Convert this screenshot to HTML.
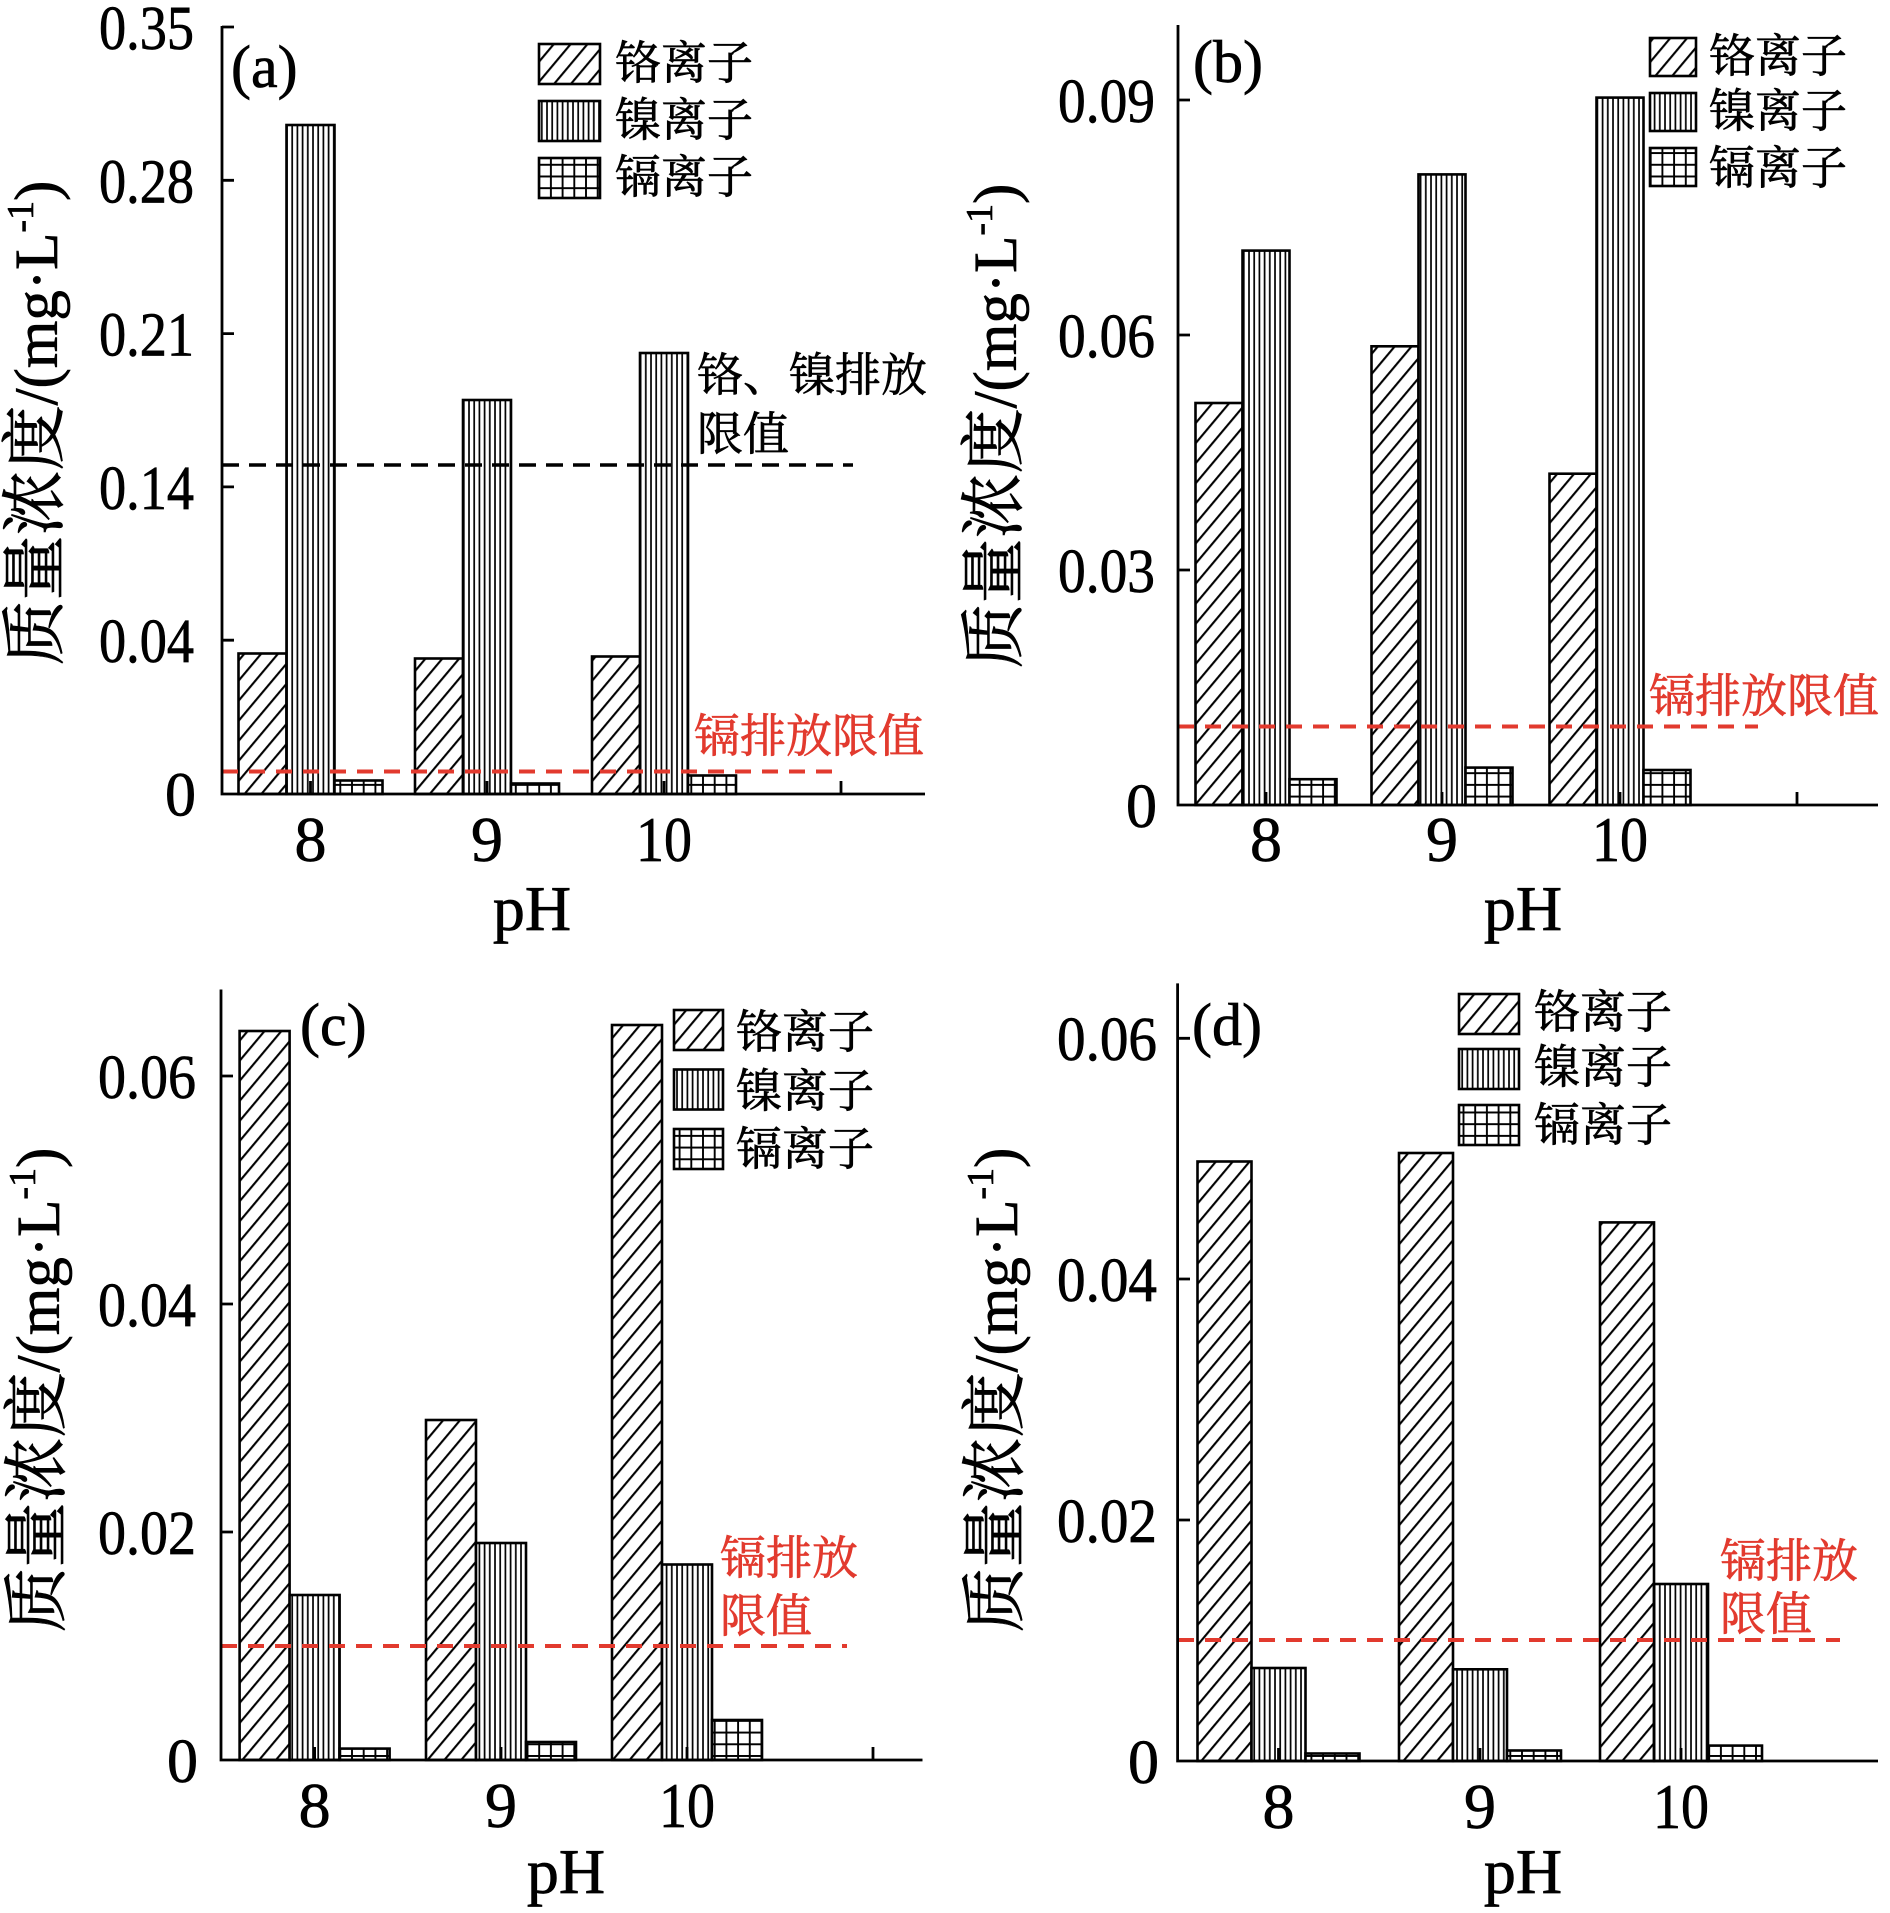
<!DOCTYPE html>
<html><head><meta charset="utf-8"><style>
html,body{margin:0;padding:0;background:#fff;}
svg{display:block;}
.num{font-family:"Liberation Serif","Noto Serif CJK SC",serif;fill:#000;stroke:#000;stroke-width:0.7;}
.cjk{font-family:"Liberation Serif","Noto Serif CJK SC",serif;fill:#000;stroke:#000;stroke-width:0.7;}
.red{fill:#e23a2e;stroke:#e23a2e;}
.ax{stroke:#000;stroke-width:2.8;fill:none;}
.bar{stroke:#000;stroke-width:2.6;}
</style></head><body>
<svg width="1890" height="1913" viewBox="0 0 1890 1913" xmlns="http://www.w3.org/2000/svg">
<defs>
<pattern id="dg" patternUnits="userSpaceOnUse" width="12.9" height="40" patternTransform="rotate(40)">
<rect width="12.9" height="40" fill="#fff"/>
<line x1="1.1" y1="0" x2="1.1" y2="40" stroke="#000" stroke-width="2.1"/>
</pattern>
<pattern id="vt" patternUnits="userSpaceOnUse" width="5.2" height="20">
<rect width="5.2" height="20" fill="#fff"/>
<line x1="1" y1="0" x2="1" y2="20" stroke="#000" stroke-width="1.7"/>
</pattern>
<pattern id="gr" patternUnits="userSpaceOnUse" width="11.7" height="11.7">
<rect width="11.7" height="11.7" fill="#fff"/>
<path d="M1,0 V11.7 M0,1 H11.7" stroke="#000" stroke-width="1.9"/>
</pattern>
</defs>
<rect width="1890" height="1913" fill="#fff"/>

<!-- ================= PANEL A ================= -->
<g>
<rect class="bar" x="238.5" y="653.5" width="48" height="140.5" fill="url(#dg)"/>
<rect class="bar" x="286.5" y="125" width="48" height="669" fill="url(#vt)"/>
<rect class="bar" x="334.5" y="780.5" width="48" height="13.5" fill="url(#gr)"/>
<rect class="bar" x="415" y="658.5" width="48" height="135.5" fill="url(#dg)"/>
<rect class="bar" x="463" y="400" width="48" height="394" fill="url(#vt)"/>
<rect class="bar" x="511" y="783.5" width="48" height="10.5" fill="url(#gr)"/>
<rect class="bar" x="592" y="656.5" width="48" height="137.5" fill="url(#dg)"/>
<rect class="bar" x="640" y="353" width="48" height="441" fill="url(#vt)"/>
<rect class="bar" x="688" y="775.5" width="48" height="18.5" fill="url(#gr)"/>

<line x1="222" y1="465" x2="853" y2="465" stroke="#000" stroke-width="3.6" stroke-dasharray="17 10"/>
<line x1="222" y1="771.5" x2="838" y2="771.5" stroke="#e23a2e" stroke-width="4" stroke-dasharray="16 11"/>

<path class="ax" d="M222,26 V794 H925"/>
<path class="ax" d="M222,27 H234 M222,180.3 H234 M222,333.6 H234 M222,486.9 H234 M222,640.2 H234"/>
<path class="ax" d="M310.5,794 V781 M487,794 V781 M664,794 V781 M841,794 V781"/>

<g class="num" font-size="62" text-anchor="end">
<text x="194" y="49" textLength="95" lengthAdjust="spacingAndGlyphs">0.35</text>
<text x="194" y="202.3" textLength="95" lengthAdjust="spacingAndGlyphs">0.28</text>
<text x="194" y="355.6" textLength="95" lengthAdjust="spacingAndGlyphs">0.21</text>
<text x="194" y="508.9" textLength="95" lengthAdjust="spacingAndGlyphs">0.14</text>
<text x="194" y="662.2" textLength="95" lengthAdjust="spacingAndGlyphs">0.04</text>
<text x="196" y="815.5">0</text>
</g>
<g class="num" font-size="64" text-anchor="middle">
<text x="310.5" y="861">8</text>
<text x="487" y="861">9</text>
<text x="664" y="861" textLength="56" lengthAdjust="spacingAndGlyphs">10</text>
<text x="532" y="930">pH</text>
</g>
<text class="num" x="231" y="87" font-size="60">(a)</text>

<rect class="bar" x="539" y="44" width="61" height="40" fill="url(#dg)"/>
<rect class="bar" x="539" y="101" width="61" height="40" fill="url(#vt)"/>
<rect class="bar" x="539" y="158" width="61" height="40" fill="url(#gr)"/>
<g class="cjk" font-size="46">
<text x="615" y="79">铬离子</text>
<text x="615" y="136">镍离子</text>
<text x="615" y="193">镉离子</text>
<text x="697" y="391">铬、镍排放</text>
<text x="697" y="450">限值</text>
<text class="red" x="694" y="752">镉排放限值</text>
</g>
<text class="cjk" font-size="61" text-anchor="middle" transform="translate(57,423) rotate(-90)"><tspan font-size="65">质量浓度</tspan>/(mg·L<tspan font-size="38" dy="-24">-1</tspan><tspan dy="24">)</tspan></text>
</g>

<!-- ================= PANEL B ================= -->
<g>
<rect class="bar" x="1195.5" y="403" width="47" height="402" fill="url(#dg)"/>
<rect class="bar" x="1242.5" y="250.6" width="47" height="554.4" fill="url(#vt)"/>
<rect class="bar" x="1289.5" y="779.2" width="47" height="25.8" fill="url(#gr)"/>
<rect class="bar" x="1371.5" y="346.3" width="47" height="458.7" fill="url(#dg)"/>
<rect class="bar" x="1418.5" y="174.4" width="47" height="630.6" fill="url(#vt)"/>
<rect class="bar" x="1465.5" y="767.6" width="47" height="37.4" fill="url(#gr)"/>
<rect class="bar" x="1549.5" y="473.7" width="47" height="331.3" fill="url(#dg)"/>
<rect class="bar" x="1596.5" y="97.6" width="47" height="707.4" fill="url(#vt)"/>
<rect class="bar" x="1643.5" y="770" width="47" height="35" fill="url(#gr)"/>

<line x1="1178" y1="726.5" x2="1758" y2="726.5" stroke="#e23a2e" stroke-width="4" stroke-dasharray="16 11"/>

<path class="ax" d="M1178,25 V805 H1878"/>
<path class="ax" d="M1178,100 H1190 M1178,335 H1190 M1178,570 H1190"/>
<path class="ax" d="M1266,805 V792 M1442,805 V792 M1620,805 V792 M1797,805 V792"/>

<g class="num" font-size="62" text-anchor="end">
<text x="1155" y="122" textLength="97" lengthAdjust="spacingAndGlyphs">0.09</text>
<text x="1155" y="357" textLength="97" lengthAdjust="spacingAndGlyphs">0.06</text>
<text x="1155" y="592" textLength="97" lengthAdjust="spacingAndGlyphs">0.03</text>
<text x="1157" y="827">0</text>
</g>
<g class="num" font-size="64" text-anchor="middle">
<text x="1266" y="861">8</text>
<text x="1442" y="861">9</text>
<text x="1620" y="861" textLength="56" lengthAdjust="spacingAndGlyphs">10</text>
<text x="1523" y="930">pH</text>
</g>
<text class="num" x="1193" y="82" font-size="60">(b)</text>

<rect class="bar" x="1650" y="38" width="46" height="38" fill="url(#dg)"/>
<rect class="bar" x="1650" y="93" width="46" height="38" fill="url(#vt)"/>
<rect class="bar" x="1650" y="148" width="46" height="38" fill="url(#gr)"/>
<g class="cjk" font-size="46">
<text x="1709" y="72">铬离子</text>
<text x="1709" y="127">镍离子</text>
<text x="1709" y="184">镉离子</text>
<text class="red" x="1649" y="712">镉排放限值</text>
</g>
<text class="cjk" font-size="61" text-anchor="middle" transform="translate(1016,426) rotate(-90)"><tspan font-size="65">质量浓度</tspan>/(mg·L<tspan font-size="38" dy="-24">-1</tspan><tspan dy="24">)</tspan></text>
</g>

<!-- ================= PANEL C ================= -->
<g>
<rect class="bar" x="239.6" y="1031" width="50" height="729" fill="url(#dg)"/>
<rect class="bar" x="289.6" y="1595" width="50" height="165" fill="url(#vt)"/>
<rect class="bar" x="339.6" y="1748.6" width="50" height="11.4" fill="url(#gr)"/>
<rect class="bar" x="426" y="1420" width="50" height="340" fill="url(#dg)"/>
<rect class="bar" x="476" y="1543" width="50" height="217" fill="url(#vt)"/>
<rect class="bar" x="526" y="1742" width="50" height="18" fill="url(#gr)"/>
<rect class="bar" x="612" y="1025" width="50" height="735" fill="url(#dg)"/>
<rect class="bar" x="662" y="1564.5" width="50" height="195.5" fill="url(#vt)"/>
<rect class="bar" x="712" y="1720" width="50" height="40" fill="url(#gr)"/>

<line x1="221" y1="1646" x2="847" y2="1646" stroke="#e23a2e" stroke-width="4" stroke-dasharray="16 11"/>

<path class="ax" d="M221,989.5 V1760 H922.5"/>
<path class="ax" d="M221,1076 H233 M221,1304 H233 M221,1532 H233"/>
<path class="ax" d="M314.6,1760 V1747 M501,1760 V1747 M687,1760 V1747 M873,1760 V1747"/>

<g class="num" font-size="62" text-anchor="end">
<text x="196" y="1098" textLength="98" lengthAdjust="spacingAndGlyphs">0.06</text>
<text x="196" y="1326" textLength="98" lengthAdjust="spacingAndGlyphs">0.04</text>
<text x="196" y="1554" textLength="98" lengthAdjust="spacingAndGlyphs">0.02</text>
<text x="198" y="1782">0</text>
</g>
<g class="num" font-size="64" text-anchor="middle">
<text x="314.6" y="1827">8</text>
<text x="501" y="1827">9</text>
<text x="687" y="1827" textLength="56" lengthAdjust="spacingAndGlyphs">10</text>
<text x="566" y="1893">pH</text>
</g>
<text class="num" x="300" y="1045" font-size="60">(c)</text>

<rect class="bar" x="674" y="1010" width="49" height="40" fill="url(#dg)"/>
<rect class="bar" x="674" y="1069.5" width="49" height="40" fill="url(#vt)"/>
<rect class="bar" x="674" y="1129" width="49" height="40" fill="url(#gr)"/>
<g class="cjk" font-size="46">
<text x="736" y="1048">铬离子</text>
<text x="736" y="1107">镍离子</text>
<text x="736" y="1165">镉离子</text>
<text class="red" x="720" y="1574">镉排放</text>
<text class="red" x="720" y="1632">限值</text>
</g>
<text class="cjk" font-size="61" text-anchor="middle" transform="translate(59,1390) rotate(-90)"><tspan font-size="65">质量浓度</tspan>/(mg·L<tspan font-size="38" dy="-24">-1</tspan><tspan dy="24">)</tspan></text>
</g>

<!-- ================= PANEL D ================= -->
<g>
<rect class="bar" x="1197.5" y="1161.5" width="54" height="599.5" fill="url(#dg)"/>
<rect class="bar" x="1251.5" y="1668" width="54" height="93" fill="url(#vt)"/>
<rect class="bar" x="1305.5" y="1753.5" width="54" height="7.5" fill="url(#gr)"/>
<rect class="bar" x="1399" y="1153" width="54" height="608" fill="url(#dg)"/>
<rect class="bar" x="1453" y="1669.3" width="54" height="91.7" fill="url(#vt)"/>
<rect class="bar" x="1507" y="1750.5" width="54" height="10.5" fill="url(#gr)"/>
<rect class="bar" x="1600" y="1222.4" width="54" height="538.6" fill="url(#dg)"/>
<rect class="bar" x="1654" y="1584" width="54" height="177" fill="url(#vt)"/>
<rect class="bar" x="1708" y="1745.6" width="54" height="15.4" fill="url(#gr)"/>

<line x1="1178" y1="1640" x2="1840" y2="1640" stroke="#e23a2e" stroke-width="4" stroke-dasharray="16 11"/>

<path class="ax" d="M1177.6,983.4 V1761 H1878"/>
<path class="ax" d="M1177.6,1038.3 H1190 M1177.6,1279 H1190 M1177.6,1520 H1190"/>
<path class="ax" d="M1278.5,1761 V1748 M1480,1761 V1748 M1681,1761 V1748"/>

<g class="num" font-size="62" text-anchor="end">
<text x="1157" y="1060" textLength="100" lengthAdjust="spacingAndGlyphs">0.06</text>
<text x="1157" y="1301" textLength="100" lengthAdjust="spacingAndGlyphs">0.04</text>
<text x="1157" y="1542" textLength="100" lengthAdjust="spacingAndGlyphs">0.02</text>
<text x="1159" y="1783">0</text>
</g>
<g class="num" font-size="64" text-anchor="middle">
<text x="1278.5" y="1828">8</text>
<text x="1480" y="1828">9</text>
<text x="1681" y="1828" textLength="56" lengthAdjust="spacingAndGlyphs">10</text>
<text x="1523" y="1893">pH</text>
</g>
<text class="num" x="1192" y="1045" font-size="60">(d)</text>

<rect class="bar" x="1459" y="994" width="60" height="40" fill="url(#dg)"/>
<rect class="bar" x="1459" y="1049" width="60" height="40" fill="url(#vt)"/>
<rect class="bar" x="1459" y="1105" width="60" height="40" fill="url(#gr)"/>
<g class="cjk" font-size="46">
<text x="1534" y="1028">铬离子</text>
<text x="1534" y="1083">镍离子</text>
<text x="1534" y="1141">镉离子</text>
<text class="red" x="1720" y="1577">镉排放</text>
<text class="red" x="1720" y="1630">限值</text>
</g>
<text class="cjk" font-size="61" text-anchor="middle" transform="translate(1017,1390) rotate(-90)"><tspan font-size="65">质量浓度</tspan>/(mg·L<tspan font-size="38" dy="-24">-1</tspan><tspan dy="24">)</tspan></text>
</g>
</svg>
</body></html>
